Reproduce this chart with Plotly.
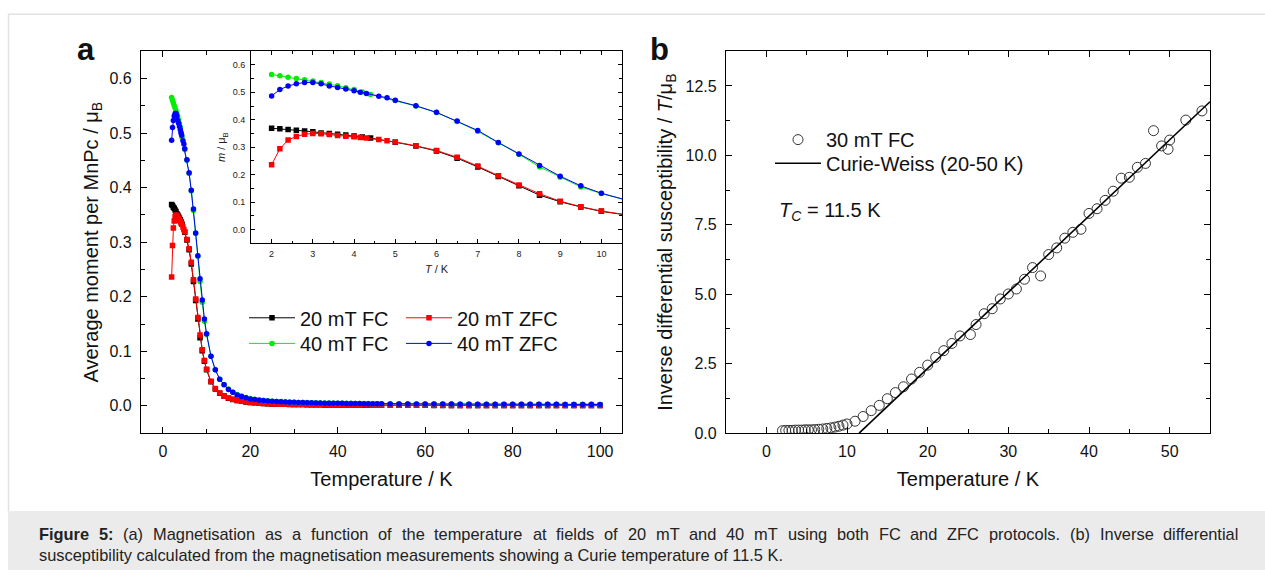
import plotly.graph_objects as go

# ---------------- DATA ----------------
# Panel a: temperature grids (K)
T_FC = [2.0, 2.2, 2.4, 2.6, 2.8, 3.0, 3.2, 3.4, 3.6, 3.8, 4.0, 4.2, 4.4,
        5.0, 5.5, 6.0, 6.5, 7.0, 7.5, 8.0, 8.5, 9.0, 9.5, 10.0,
        11, 12, 13, 14, 15, 16, 17, 18, 19, 20, 21, 22, 23, 24, 25, 26, 27, 28, 29, 30,
        31, 32, 33, 34, 35, 36, 37, 38, 39, 40, 41, 42, 43, 44, 45, 46, 47, 48, 49, 50,
        52, 54, 56, 58, 60, 62, 64, 66, 68, 70, 72, 74, 76, 78, 80, 82, 84, 86, 88, 90,
        92, 94, 96, 98, 100]
T_ZFC = [2.0, 2.2, 2.4, 2.6, 2.8, 3.0, 3.2, 3.4, 3.6, 3.8, 4.0, 4.15, 4.3, 4.6, 4.8, 5.0,
         5.5, 6.0, 6.5, 7.0, 7.5, 8.0, 8.5, 9.0, 9.5, 10.0,
         11, 12, 13, 14, 15, 16, 17, 18, 19, 20, 21, 22, 23, 24, 25, 26, 27, 28, 29, 30,
         31, 32, 33, 34, 35, 36, 37, 38, 39, 40, 41, 42, 43, 44, 45, 46, 47, 48, 49, 50,
         52, 54, 56, 58, 60, 62, 64, 66, 68, 70, 72, 74, 76, 78, 80, 82, 84, 86, 88, 90,
         92, 94, 96, 98, 100]

m_20_FC = [0.369, 0.367, 0.364, 0.362, 0.359, 0.356, 0.352, 0.350, 0.347, 0.344, 0.341, 0.337, 0.333,
           0.318, 0.304, 0.286, 0.260, 0.228, 0.193, 0.159, 0.125, 0.101, 0.082, 0.066,
           0.044, 0.031, 0.023, 0.018, 0.0142, 0.0118, 0.0099, 0.0084, 0.0072, 0.0062,
           0.0055, 0.0049, 0.0044, 0.0040, 0.0036, 0.0033, 0.0031, 0.0029, 0.0027, 0.0025,
           0.0024, 0.0023, 0.0022, 0.0021, 0.0020, 0.0019, 0.0018, 0.0018, 0.0017, 0.0016,
           0.0016, 0.0015, 0.0015, 0.0014, 0.0014, 0.0013, 0.0013, 0.0013, 0.0012, 0.0012,
           0.0011, 0.0011, 0.0010, 0.0010, 0.0010, 0.0009, 0.0009, 0.0009, 0.0008, 0.0008,
           0.0008, 0.0008, 0.0007, 0.0007, 0.0007, 0.0007, 0.0006, 0.0006, 0.0006, 0.0006,
           0.0006, 0.0005, 0.0005, 0.0005, 0.0005]
m_20_ZFC = [0.236, 0.294, 0.326, 0.339, 0.347, 0.350, 0.349, 0.346, 0.343, 0.340, 0.338, 0.335, 0.333,
            0.328, 0.323, 0.319,
            0.305, 0.288, 0.263, 0.231, 0.196, 0.162, 0.130, 0.103, 0.083, 0.067,
            0.045, 0.032, 0.0235, 0.0182, 0.0145, 0.0120, 0.0100, 0.0086, 0.0074, 0.0064,
            0.0056, 0.0050, 0.0045, 0.0041, 0.0037, 0.0034, 0.0032, 0.0030, 0.0028, 0.0026,
            0.0025, 0.0024, 0.0023, 0.0022, 0.0021, 0.0020, 0.0019, 0.0018, 0.0018, 0.0017,
            0.0017, 0.0016, 0.0016, 0.0015, 0.0015, 0.0014, 0.0014, 0.0013, 0.0013, 0.0013,
            0.0012, 0.0012, 0.0011, 0.0011, 0.0010, 0.0010, 0.0010, 0.0009, 0.0009, 0.0009,
            0.0008, 0.0008, 0.0008, 0.0007, 0.0007, 0.0007, 0.0007, 0.0006, 0.0006, 0.0006,
            0.0006, 0.0005, 0.0005, 0.0005, 0.0005]
m_40_FC = [0.565, 0.560, 0.555, 0.550, 0.546, 0.541, 0.536, 0.530, 0.524, 0.517, 0.510, 0.501, 0.492,
           0.470, 0.450, 0.426, 0.394, 0.358, 0.316, 0.274, 0.228, 0.190, 0.155, 0.131,
           0.091, 0.066, 0.049, 0.039, 0.031, 0.025, 0.021, 0.018, 0.0155, 0.0135,
           0.0120, 0.0110, 0.0100, 0.0093, 0.0087, 0.0082, 0.0078, 0.0074, 0.0070, 0.0067,
           0.0064, 0.0062, 0.0060, 0.0058, 0.0056, 0.0054, 0.0052, 0.0051, 0.0050, 0.0049,
           0.0048, 0.0047, 0.0046, 0.0045, 0.0044, 0.0043, 0.0042, 0.0041, 0.0040, 0.0039,
           0.0038, 0.0037, 0.0037, 0.0036, 0.0035, 0.0035, 0.0034, 0.0034, 0.0033, 0.0033,
           0.0032, 0.0032, 0.0031, 0.0031, 0.0030, 0.0030, 0.0030, 0.0029, 0.0029, 0.0029,
           0.0028, 0.0028, 0.0028, 0.0036, 0.0027]
m_40_ZFC = [0.487, 0.510, 0.523, 0.531, 0.536, 0.536, 0.531, 0.523, 0.518, 0.512, 0.506, 0.500, 0.496,
            0.486, 0.480, 0.471,
            0.451, 0.427, 0.395, 0.361, 0.317, 0.275, 0.233, 0.194, 0.159, 0.132,
            0.091, 0.066, 0.049, 0.0385, 0.030, 0.025, 0.020, 0.0174, 0.015, 0.0128,
            0.0115, 0.0105, 0.0097, 0.0090, 0.0085, 0.0080, 0.0076, 0.0072, 0.0068, 0.0065,
            0.0062, 0.0060, 0.0058, 0.0056, 0.0054, 0.0052, 0.0050, 0.0049, 0.0048, 0.0047,
            0.0046, 0.0045, 0.0044, 0.0043, 0.0042, 0.0041, 0.0040, 0.0039, 0.0038, 0.0037,
            0.0036, 0.0036, 0.0035, 0.0035, 0.0034, 0.0034, 0.0033, 0.0033, 0.0032, 0.0032,
            0.0031, 0.0031, 0.0030, 0.0030, 0.0030, 0.0029, 0.0029, 0.0028, 0.0028, 0.0028,
            0.0027, 0.0027, 0.0027, 0.0026, 0.0026]

series_names = ["20 mT FC", "20 mT ZFC", "40 mT FC", "40 mT ZFC"]

# Panel b: inverse differential susceptibility (30 mT FC)
T_b = [2.0, 2.4, 2.8, 3.2, 3.6, 4.0, 4.4, 4.8, 5.2, 5.6, 6.0, 6.5, 7.0, 7.5, 8.0, 8.5, 9.0, 9.5, 10.0,
       11, 12, 13, 14, 15, 16, 17, 18, 19, 20, 21, 22, 23, 24, 25.3, 26, 27, 28, 29, 30,
       31, 32, 33, 34, 35, 36, 37, 38, 39, 40, 41, 42, 43, 44, 45, 46, 47, 48, 49, 49.8, 50,
       52, 54]
chi_inv = [0.09, 0.10, 0.10, 0.10, 0.11, 0.11, 0.11, 0.12, 0.12, 0.12, 0.13, 0.14, 0.15, 0.17, 0.19,
           0.22, 0.25, 0.29, 0.33,
           0.43, 0.60, 0.81, 1.00, 1.24, 1.46, 1.67, 1.95, 2.19, 2.45, 2.73, 2.97, 3.23, 3.50, 3.55,
           3.91, 4.30, 4.48, 4.83, 5.01, 5.19, 5.54, 5.96, 5.66, 6.43, 6.67, 7.02, 7.23, 7.34, 7.91,
           8.08, 8.38, 8.71, 9.18, 9.21, 9.57, 9.71, 10.89, 10.34, 10.22, 10.55, 11.27, 11.60]
cw_T = [11.5, 55.0]
cw_val = [0.0, 11.93]

caption_bold = "Figure 5:"
caption_line1 = ("(a) Magnetisation as a function of the temperature at fields of 20 mT and "
                 "40 mT using both FC and ZFC protocols. (b) Inverse differential")
caption_line2 = ("susceptibility calculated from the magnetisation measurements showing a "
                 "Curie temperature of 11.5 K.")

# ---------------- FIGURE ----------------
W, H = 1265, 579
FONT = "Arial, Liberation Sans, sans-serif"


def px_x(p):
    return p / W


def px_y(p):
    return 1 - p / H


fig = go.Figure()

styles = [
    dict(color="#000000", symbol="square", x=T_FC, y=m_20_FC, leg="legend"),
    dict(color="#ff0000", symbol="square", x=T_ZFC, y=m_20_ZFC, leg="legend2"),
    dict(color="#00ee00", symbol="circle", x=T_FC, y=m_40_FC, leg="legend3"),
    dict(color="#0000ff", symbol="circle", x=T_ZFC, y=m_40_ZFC, leg="legend4"),
]

for name, st in zip(series_names, styles):
    fig.add_trace(go.Scatter(
        x=st["x"], y=st["y"], mode="lines+markers", name=name,
        line=dict(color=st["color"], width=1),
        marker=dict(symbol=st["symbol"], size=5.5, color=st["color"]),
        xaxis="x", yaxis="y", legend=st["leg"]))

# inset (same data, zoomed)
for name, st in zip(series_names, styles):
    fig.add_trace(go.Scatter(
        x=st["x"], y=st["y"], mode="lines+markers", name=name, showlegend=False,
        line=dict(color=st["color"], width=1),
        marker=dict(symbol=st["symbol"], size=5.5, color=st["color"]),
        xaxis="x3", yaxis="y3"))

# panel b
fig.add_trace(go.Scatter(
    x=T_b, y=chi_inv, mode="markers", name="30 mT FC",
    marker=dict(symbol="circle-open", size=10, color="#333333", line=dict(width=1)),
    xaxis="x2", yaxis="y2", legend="legend5"))
fig.add_trace(go.Scatter(
    x=cw_T, y=cw_val, mode="lines", name="Curie-Weiss (20-50 K)",
    line=dict(color="#000000", width=1.6),
    xaxis="x2", yaxis="y2", legend="legend6"))

axis_common = dict(
    showline=True, linecolor="#000000", linewidth=1.3, mirror="allticks",
    ticks="inside", ticklen=6, tickwidth=1.3, tickcolor="#000000",
    showgrid=False, zeroline=False,
    tickfont=dict(family=FONT, size=16, color="#111111"),
    title_font=dict(family=FONT, size=20, color="#111111"),
)
minor_common = dict(ticks="inside", ticklen=4, tickwidth=1.2, tickcolor="#000000", showgrid=False)
inset_common = dict(showline=True, linecolor="#000000", linewidth=1.1, mirror="allticks",
                    ticks="inside", ticklen=4, tickwidth=1, tickcolor="#000000",
                    showgrid=False, zeroline=False,
                    tickfont=dict(family=FONT, size=9, color="#222222"))


def leg(xp, yp):
    return dict(orientation="v", x=px_x(xp), y=px_y(yp), xanchor="left", yanchor="top",
                itemwidth=46, bgcolor="rgba(0,0,0,0)", borderwidth=0,
                font=dict(family=FONT, size=20, color="#111111"), tracegroupgap=0)


fig.update_layout(
    width=W, height=H,
    margin=dict(l=0, r=0, t=0, b=0),
    paper_bgcolor="white", plot_bgcolor="white",
    font=dict(family=FONT, color="#111111"),
    xaxis=dict(**axis_common, domain=[px_x(141), px_x(622)], range=[-5, 105],
               tick0=0, dtick=20, anchor="y", minor=dict(**minor_common, dtick=10),
               title=dict(text="Temperature / K", standoff=13), ticklabelstandoff=3),
    yaxis=dict(**axis_common, domain=[px_y(440), px_y(52)], range=[-0.05, 0.65],
               tick0=0, dtick=0.1, tickformat=".1f", anchor="x",
               minor=dict(**minor_common, dtick=0.05),
               title=dict(text="Average moment per MnPc / μ<sub>B</sub>", standoff=5),
               ticklabelstandoff=5),
    xaxis2=dict(**axis_common, domain=[px_x(726), px_x(1210)], range=[-5, 55],
                tick0=0, dtick=10, anchor="y2", minor=dict(**minor_common, dtick=5),
                title=dict(text="Temperature / K", standoff=13), ticklabelstandoff=3),
    yaxis2=dict(**axis_common, domain=[px_y(440), px_y(52)], range=[0, 13.75],
                tick0=0, dtick=2.5, tickformat=".1f", anchor="x2",
                minor=dict(**minor_common, dtick=1.25),
                title=dict(text="Inverse differential susceptibility / <i>T</i>/μ<sub>B</sub>", standoff=7),
                ticklabelstandoff=5),
    xaxis3=dict(**inset_common, domain=[px_x(251), px_x(622)], range=[1.5, 10.5],
                tick0=2, dtick=1, anchor="y3",
                minor=dict(ticks="inside", ticklen=2.5, tickwidth=1, dtick=0.5, showgrid=False),
                title=dict(text="<i>T</i> / K", font=dict(family=FONT, size=11, color="#222222"), standoff=7),
                ticklabelstandoff=2),
    yaxis3=dict(**inset_common, domain=[px_y(247), px_y(52)], range=[-0.05, 0.65],
                tick0=0, dtick=0.1, tickformat=".1f", anchor="x3",
                minor=dict(ticks="inside", ticklen=2.5, tickwidth=1, dtick=0.05, showgrid=False),
                title=dict(text="<i>m</i> / μ<sub>B</sub>", font=dict(family=FONT, size=11, color="#222222"), standoff=4),
                ticklabelstandoff=3),
    legend=leg(244, 303),
    legend2=leg(401, 303),
    legend3=leg(244, 329),
    legend4=leg(401, 329),
    legend5=leg(770, 122),
    legend6=leg(770, 146),
    showlegend=True,
)

# page decoration: light frame and caption band
fig.add_shape(type="rect", xref="paper", yref="paper", x0=px_x(8), x1=1, y0=0, y1=px_y(519),
              fillcolor="#ebebeb", line=dict(width=0), layer="below")
fig.add_shape(type="line", xref="paper", yref="paper", x0=px_x(8), x1=1, y0=px_y(14.5), y1=px_y(14.5),
              line=dict(color="#e2e2e2", width=1.5), layer="below")
fig.add_shape(type="line", xref="paper", yref="paper", x0=px_x(8.5), x1=px_x(8.5), y0=px_y(519), y1=px_y(14.5),
              line=dict(color="#e2e2e2", width=1.5), layer="below")

# panel labels
fig.add_annotation(text="<b>a</b>", xref="paper", yref="paper", x=px_x(86), y=px_y(50),
                   xanchor="center", yanchor="middle", showarrow=False,
                   font=dict(family=FONT, size=31, color="#111111"))
fig.add_annotation(text="<b>b</b>", xref="paper", yref="paper", x=px_x(659), y=px_y(50),
                   xanchor="center", yanchor="middle", showarrow=False,
                   font=dict(family=FONT, size=31, color="#111111"))
# Tc label
fig.add_annotation(text="<i>T</i><sub><i>C</i></sub> = 11.5 K", xref="paper", yref="paper",
                   x=px_x(777), y=px_y(215), xanchor="left", yanchor="middle", showarrow=False,
                   font=dict(family=FONT, size=20, color="#111111"))

# caption: first line justified word by word (Arial / Liberation Sans advance widths)
CAP_SIZE = 16.4
REG = {' ': 278, '(': 333, ')': 333, '.': 278, ':': 278, ',': 278, '-': 333,
       'a': 556, 'b': 556, 'c': 500, 'd': 556, 'e': 556, 'f': 278, 'g': 556, 'h': 556, 'i': 222,
       'j': 222, 'k': 500, 'l': 222, 'm': 833, 'n': 556, 'o': 556, 'p': 556, 'q': 556, 'r': 333,
       's': 500, 't': 278, 'u': 556, 'v': 500, 'w': 722, 'x': 500, 'y': 500, 'z': 500,
       'A': 667, 'B': 667, 'C': 722, 'D': 722, 'E': 667, 'F': 611, 'G': 778, 'H': 722, 'I': 278,
       'J': 500, 'K': 667, 'L': 556, 'M': 833, 'N': 722, 'O': 778, 'P': 667, 'Q': 778, 'R': 722,
       'S': 667, 'T': 611, 'U': 722, 'V': 667, 'W': 944, 'X': 667, 'Y': 667, 'Z': 611}
BOLD = {'F': 611, 'i': 278, 'g': 611, 'u': 611, 'r': 389, 'e': 556, ':': 333}


def text_w(s, bold=False):
    tot = 0
    for ch in s:
        if ch.isdigit():
            tot += 556
        elif bold and ch in BOLD:
            tot += BOLD[ch]
        else:
            tot += REG.get(ch, 556)
    return tot / 1000 * CAP_SIZE


words = [(w, True) for w in caption_bold.split()] + [(w, False) for w in caption_line1.split()]
x_start, x_end = 38, 1238
natural = sum(text_w(w, b) for w, b in words)
gap = (x_end - x_start - natural) / (len(words) - 1)
xc = x_start
for w, b in words:
    fig.add_annotation(text=("<b>%s</b>" % w) if b else w, xref="paper", yref="paper",
                       x=px_x(xc), y=px_y(542), xanchor="left", yanchor="middle",
                       showarrow=False, borderpad=0,
                       font=dict(family=FONT, size=CAP_SIZE, color="#222222"))
    xc += text_w(w, b) + gap

fig.add_annotation(text=caption_line2, xref="paper", yref="paper", x=px_x(38), y=px_y(564),
                   xanchor="left", yanchor="middle", showarrow=False, borderpad=0,
                   font=dict(family=FONT, size=CAP_SIZE, color="#222222"))

page_js = (
    "var de=document.documentElement, bd=document.body;"
    "[de, bd].forEach(function(e){e.style.margin='0px';e.style.padding='0px';"
    "e.style.overflow='hidden';e.style.width='1265px';e.style.height='579px';});"
    "var gd=document.getElementById('{plot_id}');"
    "gd.style.position='absolute';gd.style.left='0px';gd.style.top='0px';"
)

fig.write_html("out.html", config={"displayModeBar": False}, post_script=page_js)
